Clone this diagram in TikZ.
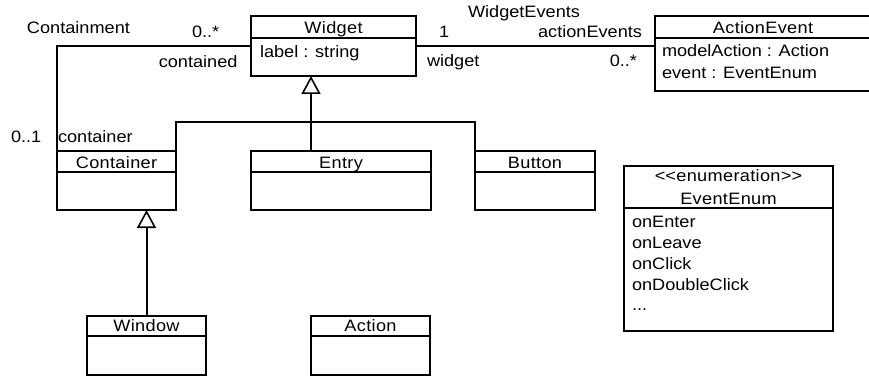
\documentclass[tikz,border=0pt]{standalone}
\usepackage{fontspec}
\setmainfont{Liberation Sans}[FakeStretch=1.1]
\newfontfamily\hdrfont{Liberation Sans}[FakeStretch=1.1,LetterSpace=2]
\usetikzlibrary{arrows.meta}

\tikzset{
  txt/.style={font=\fontsize{16.5pt}{21pt}\selectfont, inner sep=0pt, outer sep=0pt},
  hdr/.style={font=\hdrfont\fontsize{16.5pt}{21pt}\selectfont, inner sep=0pt, outer sep=0pt, anchor=base},
  attr/.style={txt, anchor=base west},
  classbox/.style={draw, line width=2pt, inner sep=0pt, outer sep=0pt, anchor=north west},
  sepline/.style={line width=1.4pt},
  assoc/.style={line width=2pt},
  gen/.style={line width=2pt, {Triangle[open,length=18pt,width=19pt,line width=1.6pt]}-},
}

% name, x, y, width, height, header height, title baseline, title
\newcommand\umlclass[8]{%
  \node[classbox, minimum width=#4pt, minimum height=#5pt] (#1) at (#2,#3) {};
  \draw[sepline] ([yshift=-#6pt]#1.north west) -- ([yshift=-#6pt]#1.north east);
  \node[hdr] (#1-title) at ([yshift=-#7pt]#1.north) {#8};
}

\begin{document}
\begin{tikzpicture}[x=1pt, y=-1pt]
  \useasboundingbox[fill=white] (0,0) rectangle (869,377);

  % classes
  \umlclass{Widget}{251}{16}{165}{60}{22}{18}{Widget}
  \umlclass{ActionEvent}{655}{16}{216}{75}{22}{17.3}{ActionEvent}
  \umlclass{Container}{57}{151}{119}{59}{21}{17.3}{Container}
  \umlclass{Entry}{251}{151}{180}{59}{21}{17.3}{Entry}
  \umlclass{Button}{475}{151}{120}{59}{21}{17.3}{Button}
  \umlclass{Window}{87}{316}{119}{59}{20}{15.7}{Window}
  \umlclass{Action}{311}{316}{119}{59}{20}{15.7}{Action}
  \umlclass{EventEnum}{624}{166}{209}{165}{42}{15.7}{<\kern0pt<enumeration>\kern0pt>}
  \node[hdr] (EventEnum-name) at ([yshift=-38.3pt]EventEnum.north) {EventEnum};

  % attributes
  \node[attr] (Widget-a1) at ([xshift=9pt,yshift=-41.3pt]Widget.north west) {label : string};
  \node[attr] (ActionEvent-a1) at ([xshift=7pt,yshift=-40.7pt]ActionEvent.north west) {modelAction : Action};
  \node[attr] (ActionEvent-a2) at ([xshift=7pt,yshift=-62.3pt]ActionEvent.north west) {event : EventEnum};
  \node[attr] (EventEnum-l1) at ([xshift=8pt,yshift=-61.3pt]EventEnum.north west) {onEnter};
  \node[attr] (EventEnum-l2) at ([xshift=8pt,yshift=-82.3pt]EventEnum.north west) {onLeave};
  \node[attr] (EventEnum-l3) at ([xshift=8pt,yshift=-103.3pt]EventEnum.north west) {onClick};
  \node[attr] (EventEnum-l4) at ([xshift=8pt,yshift=-124pt]EventEnum.north west) {onDoubleClick};
  \node[attr] (EventEnum-l5) at ([xshift=8pt,yshift=-144.7pt]EventEnum.north west) {...};

  % Containment association
  \draw[assoc] (Widget.west) -| (Container.north west);
  \node[attr] (cont-name) at (27,33.3) {Containment};
  \node[attr] (cont-m1) at (192,37.3) {0..*};
  \node[txt, anchor=base east] (cont-r1) at (237.5,67.7) {contained};
  \node[attr] (cont-m2) at (11,142.3) {0..1};
  \node[attr] (cont-r2) at (58,142.3) {container};

  % WidgetEvents association
  \draw[assoc] (Widget.east) -- (Widget.east -| ActionEvent.west);
  \node[attr] (ev-name) at (468,17.7) {WidgetEvents};
  \node[attr] (ev-m1) at (439,37.7) {1};
  \node[txt, anchor=base east] (ev-r2) at (642,37.7) {actionEvents};
  \node[attr] (ev-r1) at (427,66.7) {widget};
  \node[txt, anchor=base east] (ev-m2) at (637,66.7) {0..*};

  % generalization tree below Widget
  \coordinate (wtip) at ([xshift=60pt]Widget.south west);
  \coordinate (gbar) at (wtip |- 0,122);
  \draw[gen] (wtip) -- (wtip |- Entry.north);
  \draw[assoc] (Container.north east) |- (gbar) -| (Button.north west);

  % Window specializes Container
  \draw[gen] (Window.north |- Container.south) -- (Window.north);
\end{tikzpicture}
\end{document}
